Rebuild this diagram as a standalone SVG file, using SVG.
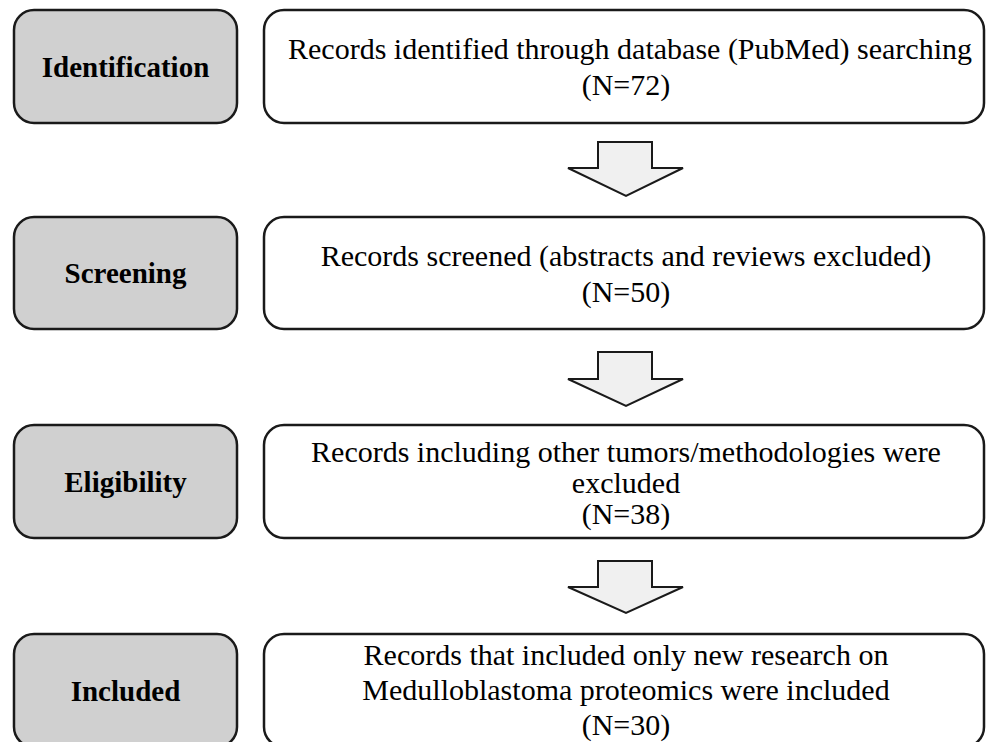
<svg xmlns="http://www.w3.org/2000/svg" width="986" height="742" viewBox="0 0 986 742">
<style>
.stage{fill:#d0d0d0;stroke:#1a1a1a;stroke-width:2.5}
.box{fill:#ffffff;stroke:#1a1a1a;stroke-width:2.5}
.lbl{font-family:"Liberation Serif","Times New Roman",serif;font-weight:bold;font-size:29px;fill:#000;text-anchor:middle}
.txt{font-family:"Liberation Serif","Times New Roman",serif;font-size:30px;fill:#000;text-anchor:middle}
.arr{fill:#f0f0f0;stroke:#1a1a1a;stroke-width:2;stroke-linejoin:miter}
</style>
<rect width="986" height="742" fill="#ffffff"/>
<g id="identification">
<rect class="stage" x="14" y="10" width="223" height="113" rx="20"/>
<text class="lbl" x="125.5" y="77">Identification</text>
</g>
<g id="identified">
<rect class="box" x="264" y="10" width="720" height="113" rx="20"/>
<text class="txt" x="630" y="59">Records identified through database (PubMed) searching</text>
<text class="txt" x="626" y="95">(N=72)</text>
</g>
<g id="screening">
<rect class="stage" x="14" y="217" width="223" height="112" rx="20"/>
<text class="lbl" x="125.5" y="283">Screening</text>
</g>
<g id="screened">
<rect class="box" x="264" y="217" width="720" height="112" rx="20"/>
<text class="txt" x="626" y="266">Records screened (abstracts and reviews excluded)</text>
<text class="txt" x="626" y="302">(N=50)</text>
</g>
<g id="eligibility">
<rect class="stage" x="14" y="425" width="223" height="113" rx="20"/>
<text class="lbl" x="125.5" y="492">Eligibility</text>
</g>
<g id="eligible">
<rect class="box" x="264" y="425" width="720" height="113" rx="20"/>
<text class="txt" x="626" y="462">Records including other tumors/methodologies were</text>
<text class="txt" x="626" y="493">excluded</text>
<text class="txt" x="626" y="524">(N=38)</text>
</g>
<g id="included">
<rect class="stage" x="14" y="634" width="223" height="113" rx="20"/>
<text class="lbl" x="125.5" y="701">Included</text>
</g>
<g id="includedrecords">
<rect class="box" x="264" y="634" width="720" height="113" rx="20"/>
<text class="txt" x="626" y="665">Records that included only new research on</text>
<text class="txt" x="626" y="700">Medulloblastoma proteomics were included</text>
<text class="txt" x="626" y="735">(N=30)</text>
</g>
<g id="connectors">
<polygon class="arr" points="598,142 652,142 652,168 683,168 626,196 568,168 598,168"/>
<polygon class="arr" points="598,352 652,352 652,379 683,379 626,406 568,379 598,379"/>
<polygon class="arr" points="598,561 652,561 652,587 683,587 626,613 568,587 598,587"/>
</g>
</svg>
